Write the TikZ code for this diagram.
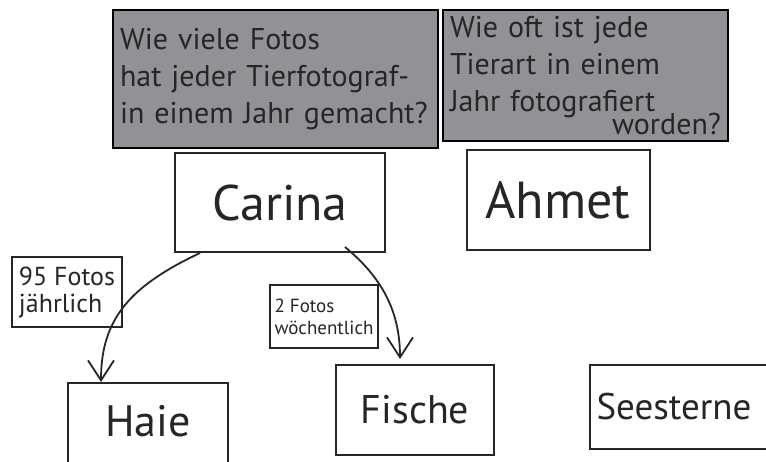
\documentclass[tikz,border=0pt]{standalone}
\usepackage{fontspec}
\setmainfont{PT Sans}
\usepackage{tikz}
\usetikzlibrary{arrows.meta}
\definecolor{qgray}{RGB}{146,146,150}

\begin{document}
\begin{tikzpicture}[
  x=1pt,y=-1pt,
  every node/.style={text=black!85},
  question/.style={draw=black,line width=2.6pt,fill=qgray,align=left,inner xsep=7pt,inner ysep=0pt,font=\fontsize{30}{37}\selectfont},
  block/.style={draw=black!85,line width=2pt,align=center},
  tag/.style={draw=black!85,line width=1.6pt,align=left,inner sep=2pt},
  arrow/.style={-{Straight Barb[length=20pt,width=26pt,line width=1.8pt]},line width=1.8pt,black!85}
]
  \clip (0,0) rectangle (766,461);
  \fill[white] (0,0) rectangle (766,461);
  \node[question,minimum width=325pt,minimum height=138pt,text width=311pt] (qfotos) at (275.5,79) {Wie viele Fotos\\ hat jeder Tierfotograf-\\ in einem Jahr gemacht?};
  \node[question,minimum width=285pt,minimum height=131pt,text width=271pt] (qtierart) at (585.5,75.5) {Wie oft ist jede\\ Tierart in einem\\ Jahr fotografiert\\[-14pt] \hspace*{\fill}worden?};
  \node[block,minimum width=210pt,minimum height=99pt,font=\fontsize{50}{54}\selectfont] (carina) at (280,202.5) {Carina};
  \node[block,minimum width=183pt,minimum height=100pt,font=\fontsize{52}{56}\selectfont] (ahmet) at (558,200) {Ahmet};
  \node[block,minimum width=160pt,minimum height=97pt,text depth=22pt,font=\fontsize{44}{48}\selectfont] (haie) at (148,431.5) {Haie};
  \node[block,minimum width=158pt,minimum height=90pt,font=\fontsize{40}{44}\selectfont] (fische) at (415,410) {Fische};
  \node[block,minimum width=182pt,minimum height=84pt,font=\fontsize{37}{41}\selectfont] (seesterne) at (681,407) {Seesterne\hspace*{14pt}};
  \node[tag,minimum width=110pt,minimum height=70pt,font=\fontsize{26}{27}\selectfont] (perjahr) at (67,292) {95 Fotos\\ jährlich};
  \node[tag,minimum width=108pt,minimum height=63pt,font=\fontsize{19}{22}\selectfont] (proweek) at (324,316.5) {2 Fotos\\ wöchentlich};
  \draw[arrow] ([xshift=-80pt]carina.south) .. controls +(-70,33) and +(0,-63) .. ([xshift=-47pt]haie.north);
  \draw[arrow] ([xshift=65pt,yshift=6pt]carina.south) .. controls +(35,29) and +(0,-50) .. ([xshift=-15pt,yshift=5pt]fische.north);
\end{tikzpicture}
\end{document}
